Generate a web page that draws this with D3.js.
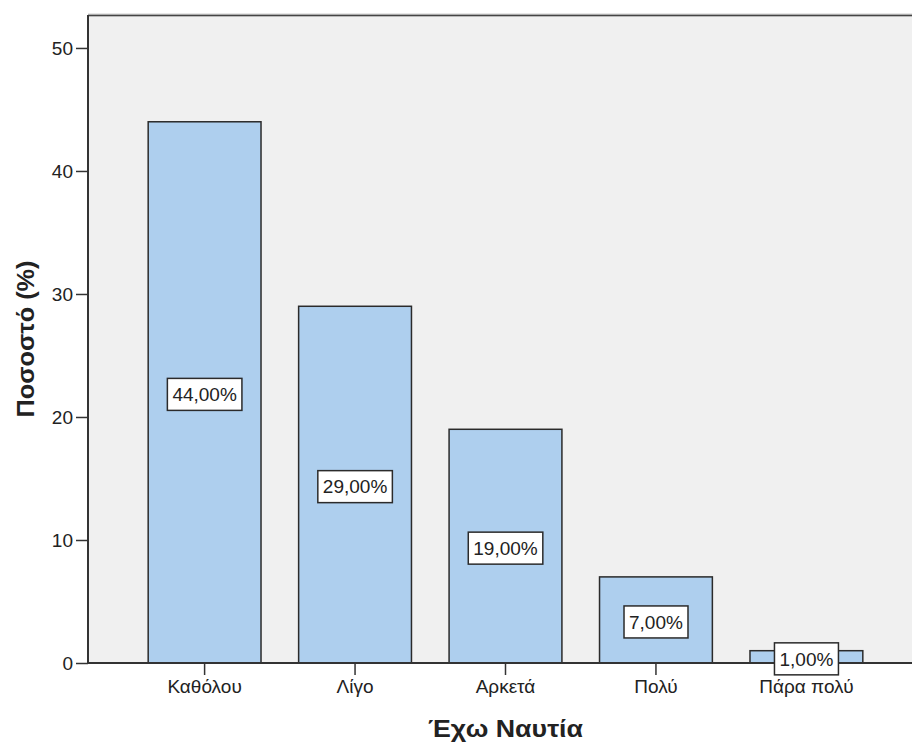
<!DOCTYPE html>
<html>
<head>
<meta charset="utf-8">
<script src="https://cdn.jsdelivr.net/npm/d3@7"></script>
<style>
  html, body { margin: 0; padding: 0; background: #ffffff; }
  svg { display: block; }
  text { font-family: "Liberation Sans", Arial, sans-serif; fill: #222; }
</style>
</head>
<body>
<svg id="chart" width="912" height="744"></svg>
<script>
// Categories and percentages
const categories = ["Καθόλου", "Λίγο", "Αρκετά", "Πολύ", "Πάρα πολύ"];
const percents = [44, 29, 19, 7, 1];
const valueLabels = ["44,00%", "29,00%", "19,00%", "7,00%", "1,00%"];
const yTicks = [0, 10, 20, 30, 40, 50];
const xTitle = "Έχω Ναυτία";
const yTitle = "Ποσοστό (%)";

const svg = d3.select("#chart");
const plot = { left: 88, top: 15, right: 923, bottom: 663 };

const y = d3.scaleLinear().domain([0, 52.68]).range([plot.bottom, plot.top]);
const x = d3.scaleBand().domain(categories)
  .range([plot.left, plot.right])
  .paddingInner(0.25).paddingOuter(0.4);

// Plot background
svg.append("rect")
  .attr("x", plot.left).attr("y", plot.top)
  .attr("width", plot.right - plot.left).attr("height", plot.bottom - plot.top)
  .attr("fill", "#f0f0f0");

// Frame lines (top and left)
svg.append("line")
  .attr("x1", plot.left).attr("x2", plot.right)
  .attr("y1", plot.top).attr("y2", plot.top)
  .attr("stroke", "#cfcfcf").attr("stroke-width", 3);
svg.append("line")
  .attr("x1", plot.left).attr("x2", plot.right)
  .attr("y1", plot.top + 0.5).attr("y2", plot.top + 0.5)
  .attr("stroke", "#444").attr("stroke-width", 1.5);

// Bars
svg.append("g").selectAll("rect")
  .data(percents)
  .join("rect")
  .attr("x", (d, i) => x(categories[i]))
  .attr("y", d => y(d))
  .attr("width", x.bandwidth())
  .attr("height", d => y(0) - y(d))
  .attr("fill", "#aecfee")
  .attr("stroke", "#2b2b2b")
  .attr("stroke-width", 1.5);

// Y axis
const yAxis = d3.axisLeft(y).tickValues(yTicks).tickSize(12).tickPadding(3).tickFormat(d3.format("d"));
const gy = svg.append("g").attr("transform", `translate(${plot.left},0)`).call(yAxis);
gy.select(".domain").remove();
gy.selectAll(".tick line").attr("stroke", "#333").attr("stroke-width", 1.5);
gy.selectAll(".tick text").attr("font-size", 19).attr("fill", "#222")
  .style("font-family", "'Liberation Sans', Arial, sans-serif");
svg.append("line")
  .attr("x1", plot.left).attr("x2", plot.left)
  .attr("y1", plot.top).attr("y2", plot.bottom)
  .attr("stroke", "#333").attr("stroke-width", 2);

// X axis
const xAxis = d3.axisBottom(x).tickSize(12).tickPadding(5);
const gx = svg.append("g").attr("transform", `translate(0,${plot.bottom})`).call(xAxis);
gx.select(".domain").remove();
gx.selectAll(".tick line").attr("stroke", "#333").attr("stroke-width", 1.5);
gx.selectAll(".tick text").attr("font-size", 19).attr("fill", "#222")
  .style("font-family", "'Liberation Sans', Arial, sans-serif");
svg.append("line")
  .attr("x1", plot.left).attr("x2", plot.right)
  .attr("y1", plot.bottom).attr("y2", plot.bottom)
  .attr("stroke", "#333").attr("stroke-width", 2);

// Value labels in boxes at bar mid-height
const labels = svg.append("g").selectAll("g")
  .data(percents)
  .join("g")
  .attr("transform", (d, i) =>
    `translate(${x(categories[i]) + x.bandwidth() / 2},${(y(d) + y(0)) / 2 + 2})`);
labels.append("text")
  .attr("text-anchor", "middle")
  .attr("dy", "0.36em")
  .attr("font-size", 19)
  .text((d, i) => valueLabels[i]);
labels.each(function () {
  const g = d3.select(this);
  const bb = g.select("text").node().getBBox();
  g.insert("rect", "text")
    .attr("x", bb.x - 5).attr("y", -16)
    .attr("width", bb.width + 10).attr("height", 32)
    .attr("fill", "#ffffff")
    .attr("stroke", "#2b2b2b").attr("stroke-width", 1.5);
});

// Axis titles (wide bold face)
svg.append("text")
  .attr("x", (plot.left + plot.right) / 2).attr("y", 737)
  .attr("text-anchor", "middle")
  .attr("font-size", 23).attr("font-weight", "bold").attr("fill", "#111")
  .attr("textLength", 155).attr("lengthAdjust", "spacingAndGlyphs")
  .text(xTitle);
svg.append("text")
  .attr("transform", `translate(34,${(plot.top + plot.bottom) / 2}) rotate(-90)`)
  .attr("text-anchor", "middle")
  .attr("font-size", 24).attr("font-weight", "bold").attr("fill", "#111")
  .attr("textLength", 157).attr("lengthAdjust", "spacingAndGlyphs")
  .text(yTitle);
</script>
</body>
</html>
